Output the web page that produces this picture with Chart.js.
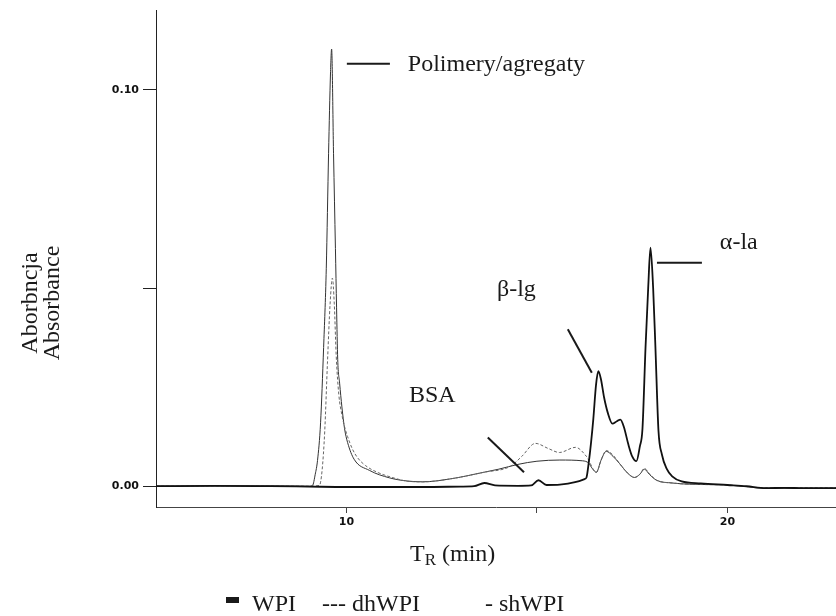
<!DOCTYPE html>
<html>
<head>
<meta charset="utf-8">
<script src="https://cdn.jsdelivr.net/npm/chart.js@4.4.1/dist/chart.umd.min.js"></script>
<style>
	html, body { margin: 0; padding: 0; background: #fff; }
	canvas { display: block; }
</style>
</head>
<body>
<canvas id="chart-sec" width="836" height="616"></canvas>
<script>
// retention time (min) and absorbance
const WPI_T = [5.0, 6.5, 8.0, 9.0, 10.0, 11.0, 12.0, 13.0, 13.35, 13.62, 13.9, 14.5, 14.85, 15.04, 15.25, 15.6, 16.0, 16.25, 16.30, 16.36, 16.42, 16.48, 16.55, 16.61, 16.68, 16.76, 16.86, 16.98, 17.10, 17.19, 17.28, 17.40, 17.50, 17.61, 17.70, 17.77, 17.85, 17.92, 17.98, 18.05, 18.11, 18.19, 18.28, 18.40, 18.55, 18.80, 19.30, 20.0, 20.5, 21.0, 21.5, 22.0, 22.85];
const WPI_A = [0.0000, 0.0001, 0.0000, -0.0001, -0.0002, -0.0002, -0.0002, -0.0001, 0.0000, 0.0008, 0.0002, 0.0001, 0.0002, 0.0015, 0.0003, 0.0004, 0.0010, 0.0018, 0.0022, 0.0060, 0.0110, 0.0170, 0.0255, 0.0290, 0.0270, 0.0225, 0.0185, 0.0158, 0.0164, 0.0168, 0.0150, 0.0105, 0.0075, 0.0063, 0.0100, 0.0145, 0.0350, 0.0500, 0.0602, 0.0500, 0.0350, 0.0140, 0.0080, 0.0045, 0.0025, 0.0012, 0.0007, 0.0003, 0.0000, -0.0005, -0.0004, -0.0005, -0.0005];

const DH_T = [5.0, 7.0, 9.0, 9.29, 9.36, 9.43, 9.50, 9.57, 9.63, 9.68, 9.73, 9.80, 9.88, 9.95, 10.03, 10.15, 10.29, 10.50, 10.79, 11.2, 11.65, 12.0, 12.7, 13.6, 14.3, 14.6, 14.96, 15.3, 15.59, 16.01, 16.3, 16.56, 16.70, 16.82, 17.0, 17.17, 17.38, 17.56, 17.70, 17.82, 17.95, 18.14, 18.56, 19.0, 20.0, 21.0, 22.0, 22.85];
const DH_A = [0.0000, 0.0001, 0.0000, 0.0002, 0.0040, 0.0140, 0.0310, 0.0460, 0.0525, 0.0460, 0.0330, 0.0230, 0.0180, 0.0150, 0.0125, 0.0095, 0.0072, 0.0052, 0.0036, 0.0022, 0.0012, 0.0011, 0.0018, 0.0035, 0.0050, 0.0075, 0.0108, 0.0095, 0.0085, 0.0098, 0.0075, 0.0035, 0.0070, 0.0090, 0.0078, 0.0057, 0.0033, 0.0022, 0.0030, 0.0045, 0.0032, 0.0015, 0.0008, 0.0005, 0.0003, -0.0004, -0.0004, -0.0004];

const SH_T = [5.0, 7.0, 9.0, 9.11, 9.18, 9.24, 9.32, 9.40, 9.47, 9.53, 9.58, 9.61, 9.66, 9.71, 9.74, 9.77, 9.82, 9.88, 9.95, 10.03, 10.2, 10.6, 11.13, 11.6, 12.0, 12.7, 13.6, 14.0, 14.5, 15.0, 15.6, 16.2, 16.36, 16.45, 16.56, 16.68, 16.82, 17.0, 17.17, 17.38, 17.56, 17.70, 17.82, 17.95, 18.14, 18.56, 19.0, 20.0, 21.0, 22.0, 22.85];
const SH_A = [0.0000, 0.0001, 0.0000, 0.0002, 0.0030, 0.0065, 0.0160, 0.0350, 0.0550, 0.0840, 0.1040, 0.1103, 0.0840, 0.0600, 0.0450, 0.0320, 0.0260, 0.0200, 0.0145, 0.0110, 0.0068, 0.0040, 0.0021, 0.0013, 0.0011, 0.0018, 0.0035, 0.0043, 0.0055, 0.0063, 0.0066, 0.0064, 0.0058, 0.0045, 0.0035, 0.0065, 0.0088, 0.0075, 0.0057, 0.0033, 0.0022, 0.0030, 0.0043, 0.0030, 0.0015, 0.0008, 0.0005, 0.0003, -0.0005, -0.0005, -0.0005];

const SERIES = ["WPI", "dhWPI", "shWPI"];

const X_TICKS = [10, 15, 20];
const X_TICK_LABELS = ["10", "", "20"];
const Y_TICKS = [0, 0.05, 0.1];
const Y_TICK_LABELS = ["0.00", "", "0.10"];

// peak names [text, t, A] and their pointer strokes [t1, A1, t2, A2]
const PEAK_LABELS = [
	["Polimery/agregaty", 11.61, 0.1064],
	["β-lg", 13.95, 0.0496],
	["BSA", 11.64, 0.0228],
	["α-la", 19.80, 0.0615],
];
const PEAK_POINTERS = [
	[10.01, 0.1066, 11.14, 0.1066],
	[15.81, 0.0396, 16.44, 0.0286],
	[13.71, 0.0123, 14.66, 0.0035],
	[18.15, 0.0564, 19.33, 0.0564],
];

const SERIF = '"Liberation Serif", "Times New Roman", serif';
const INK = "#1a1a1a";

const toPoints = (ts, as) => ts.map((t, i) => ({ x: t, y: as[i] }));

//------------------------------------------------------------
// Text on the figure: peak names, axis titles, legend
//------------------------------------------------------------
const figureText = {
	id: "figureText",
	afterDraw(chart) {
		const { ctx } = chart;
		const { x, y } = chart.scales;
		ctx.save();
		ctx.fillStyle = INK;
		ctx.strokeStyle = INK;

		ctx.font = `24px ${SERIF}`;
		ctx.textAlign = "left";
		ctx.textBaseline = "middle";
		PEAK_LABELS.forEach(([text, t, a]) => {
			ctx.fillText(text, x.getPixelForValue(t), y.getPixelForValue(a));
		});

		ctx.lineWidth = 2;
		PEAK_POINTERS.forEach(([t1, a1, t2, a2]) => {
			ctx.beginPath();
			ctx.moveTo(x.getPixelForValue(t1), y.getPixelForValue(a1));
			ctx.lineTo(x.getPixelForValue(t2), y.getPixelForValue(a2));
			ctx.stroke();
		});

		// y title, two lines
		ctx.save();
		ctx.translate(31, 303);
		ctx.rotate(-Math.PI / 2);
		ctx.textAlign = "center";
		ctx.fillText("Aborbncja", 0, 0);
		ctx.fillText("Absorbance", 0, 22);
		ctx.restore();

		// x title with subscript
		ctx.textBaseline = "alphabetic";
		let cx = 410;
		ctx.fillText("T", cx, 561);
		cx += ctx.measureText("T").width;
		ctx.font = `17px ${SERIF}`;
		ctx.fillText("R", cx, 565);
		cx += ctx.measureText("R").width;
		ctx.font = `24px ${SERIF}`;
		ctx.fillText(" (min)", cx, 561);

		// legend
		ctx.fillRect(226, 597, 13, 6);
		ctx.fillText(SERIES[0], 252, 611);
		ctx.fillText("--- " + SERIES[1], 322, 611);
		ctx.fillText("- " + SERIES[2], 485, 611);

		ctx.restore();
	},
};

const CHART_CONFIG = {
	type: "line",
	data: {
		datasets: [
			{
				label: SERIES[0],
				data: toPoints(WPI_T, WPI_A),
				borderColor: "#111",
				borderWidth: 1.8,
			},
			{
				label: SERIES[1],
				data: toPoints(DH_T, DH_A),
				borderColor: "#666",
				borderWidth: 1,
				borderDash: [3, 2],
			},
			{
				label: SERIES[2],
				data: toPoints(SH_T, SH_A),
				borderColor: "#333",
				borderWidth: 1,
			},
		],
	},
	options: {
		responsive: false,
		animation: false,
		devicePixelRatio: 1,
		layout: {
			padding: { top: 7, right: 0, bottom: 0, left: 0 },
		},
		elements: {
			point: { radius: 0 },
			line: { cubicInterpolationMode: "monotone", fill: false },
		},
		plugins: {
			legend: { display: false },
			title: { display: false },
			tooltip: { enabled: false },
		},
		scales: {
			x: {
				type: "linear",
				min: 5,
				max: 22.85,
				afterFit: (scale) => {
					scale.height = 109;
				},
				afterBuildTicks: (scale) => {
					scale.ticks = X_TICKS.map((v) => ({ value: v }));
				},
				grid: {
					drawOnChartArea: false,
					tickLength: 6,
					color: "#444",
				},
				border: {
					display: true,
					color: "#444",
				},
				ticks: {
					autoSkip: false,
					maxRotation: 0,
					padding: 3,
					color: "#111",
					font: { family: '"DejaVu Sans", sans-serif', size: 11, weight: "bold" },
					callback: (value, index) => X_TICK_LABELS[index],
				},
			},
			y: {
				type: "linear",
				min: -0.00525,
				max: 0.12,
				afterFit: (scale) => {
					scale.width = 156;
				},
				afterBuildTicks: (scale) => {
					scale.ticks = Y_TICKS.map((v) => ({ value: v }));
				},
				grid: {
					drawOnChartArea: false,
					tickLength: 13,
					color: "#222",
				},
				border: {
					display: true,
					color: "#222",
				},
				ticks: {
					autoSkip: false,
					padding: 4,
					color: "#111",
					font: { family: '"DejaVu Sans", sans-serif', size: 11, weight: "bold" },
					callback: (value, index) => Y_TICK_LABELS[index],
				},
			},
		},
	},
	plugins: [figureText],
};

const CHART_WRAPPER = document.getElementById("chart-sec");
if (CHART_WRAPPER) {
	new Chart(CHART_WRAPPER, CHART_CONFIG);
}
</script>
</body>
</html>
